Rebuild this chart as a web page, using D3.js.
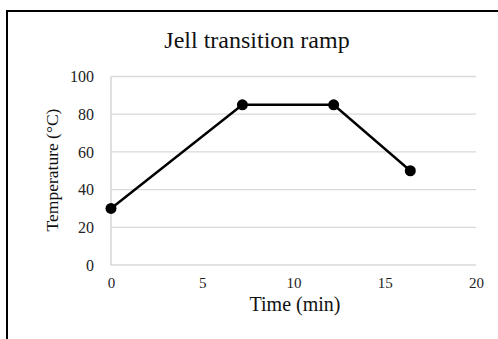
<!DOCTYPE html>
<html>
<head>
<meta charset="utf-8">
<script src="https://cdn.jsdelivr.net/npm/d3@7"></script>
<style>
  body { margin: 0; background: #fff; }
  svg { display: block; font-family: "Liberation Serif", "Times New Roman", serif; }
</style>
</head>
<body>
<svg id="chart" width="498" height="339"></svg>
<script>
const timeMin = [0, 7.2, 12.2, 16.4];
const tempC = [30, 85, 85, 50];
const xTicks = [0, 5, 10, 15, 20];
const yTicks = [0, 20, 40, 60, 80, 100];

const svg = d3.select('#chart');

// frame (runs off the right and bottom edges like the source crop)
svg.append('rect')
  .attr('x', 7).attr('y', 11)
  .attr('width', 520).attr('height', 360)
  .attr('fill', 'none').attr('stroke', '#000').attr('stroke-width', 2);

const x = d3.scaleLinear().domain([0, 20]).range([111, 476]);
const y = d3.scaleLinear().domain([0, 100]).range([265, 76.5]);

// gridlines
svg.append('g')
  .selectAll('line')
  .data(yTicks)
  .join('line')
  .attr('x1', x(0)).attr('x2', x(20))
  .attr('y1', d => y(d)).attr('y2', d => y(d))
  .attr('stroke', '#d9d9d9').attr('stroke-width', 1.3);

// left axis line
svg.append('line')
  .attr('x1', x(0)).attr('x2', x(0))
  .attr('y1', y(0)).attr('y2', y(100))
  .attr('stroke', '#d0d0d0').attr('stroke-width', 1.3);

const yAxis = svg.append('g')
  .attr('transform', `translate(${x(0)},0)`)
  .call(d3.axisLeft(y).tickValues(yTicks).tickSize(0).tickPadding(17));
yAxis.select('.domain').remove();
yAxis.attr('font-family', null).attr('font-size', null);
yAxis.selectAll('text').attr('font-size', 16).attr('fill', '#222');

const xAxis = svg.append('g')
  .attr('transform', `translate(0,${y(0)})`)
  .call(d3.axisBottom(x).tickValues(xTicks).tickSize(0).tickPadding(12.3));
xAxis.select('.domain').remove();
xAxis.attr('font-family', null).attr('font-size', null);
xAxis.selectAll('text').attr('font-size', 15).attr('fill', '#222');

// series
const pts = timeMin.map((t, i) => [t, tempC[i]]);
svg.append('path')
  .datum(pts)
  .attr('d', d3.line().x(d => x(d[0])).y(d => y(d[1])))
  .attr('fill', 'none').attr('stroke', '#000').attr('stroke-width', 2.4);

svg.append('g')
  .selectAll('circle')
  .data(pts)
  .join('circle')
  .attr('cx', d => x(d[0])).attr('cy', d => y(d[1]))
  .attr('r', 5.5).attr('fill', '#000');

// titles
svg.append('text')
  .attr('x', 257).attr('y', 48)
  .attr('text-anchor', 'middle').attr('font-size', 24).attr('fill', '#111')
  .text('Jell transition ramp');

svg.append('text')
  .attr('x', 295).attr('y', 311)
  .attr('text-anchor', 'middle').attr('font-size', 20).attr('fill', '#111')
  .text('Time (min)');

svg.append('text')
  .attr('transform', 'translate(58,170) rotate(-90)')
  .attr('text-anchor', 'middle').attr('font-size', 17.5).attr('fill', '#111')
  .text('Temperature (°C)');
</script>
</body>
</html>
